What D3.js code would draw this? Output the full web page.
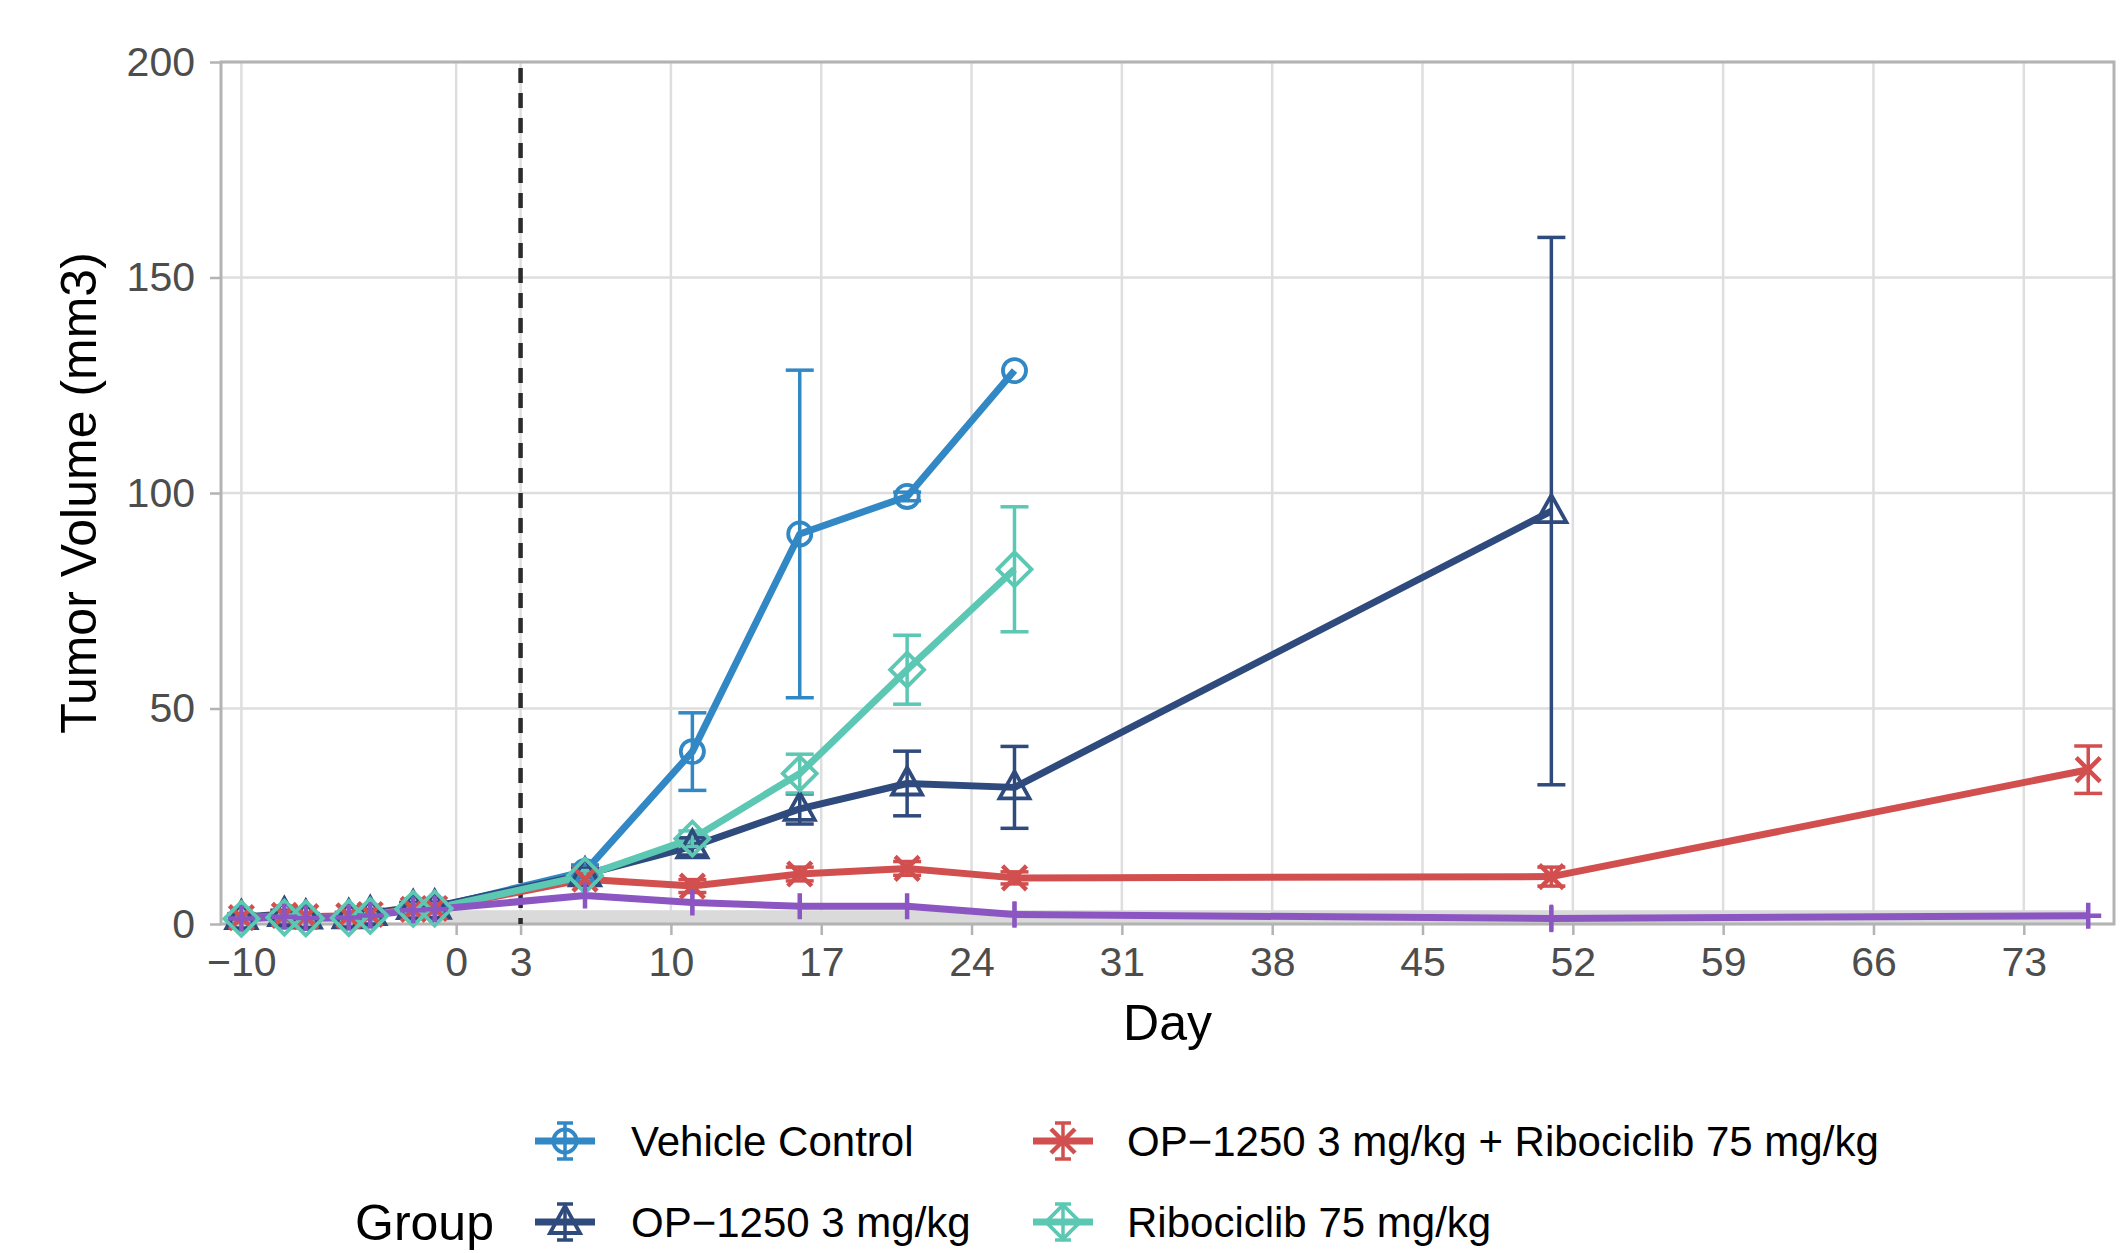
<!DOCTYPE html>
<html lang="en">
<head>
<meta charset="UTF-8">
<title>Tumor Volume by Day</title>
<script src="https://cdn.jsdelivr.net/npm/d3@7"></script>
<style>
    body { margin: 0; background: #fff; }
    svg { display: block; font-family: "Liberation Sans", Arial, Helvetica, sans-serif; }
</style>
</head>
<body>
<script>
// measurement days (x)
var days = [-10, -8, -7, -5, -4, -2, -1, 6, 11, 16, 21, 26, 51, 76];

// group names as in the legend (5th group has no legend entry in the source)
var groupNames = ["Vehicle Control", "OP\u22121250 3 mg/kg", "OP\u22121250 3 mg/kg + Ribociclib 75 mg/kg", "Ribociclib 75 mg/kg", "unlisted"];
var groupColors = ["#3288c4", "#2f4a7c", "#d24f4f", "#5cc8b4", "#8c56c2"];
var groupShapes = ["circle", "triangle", "cross", "diamond", "plus"];

// mean tumour volume (mm3), null = no measurement
var vehicleVals   = [1.4, 1.9, 1.5, 1.6, 2.1, 3.7, 3.8, 12.2, 40.0, 90.5, 99.2, 128.4, null, null];
var op1250Vals    = [1.6, 2.3, 1.7, 1.8, 2.5, 3.9, 4.0, 11.5, 18.0, 26.7, 32.6, 31.7, 95.8, null];
var comboVals     = [1.5, 2.0, 1.7, 1.9, 2.2, 3.4, 3.6, 10.4, 8.8, 11.6, 12.9, 10.7, 11.0, 35.8];
var riboVals      = [1.2, 1.5, 1.3, 1.4, 1.9, 3.5, 3.6, 11.2, 19.8, 34.9, 59.0, 82.3, null, null];
var purpleVals    = [1.3, 1.7, 1.4, 1.5, 2.0, 3.2, 3.4, 6.6, 5.0, 4.1, 4.1, 2.2, 1.3, 1.9];

// standard error
var vehicleErr = [0.7, 0.8, 0.7, 0.7, 0.8, 1.0, 1.0, 1.5, 9.0, 38.0, 1.0, 0, null, null];
var op1250Err  = [0.8, 0.9, 0.7, 0.8, 0.9, 1.1, 1.1, 1.4, 2.0, 3.5, 7.5, 9.5, 63.5, null];
var comboErr   = [0.7, 0.8, 0.7, 0.8, 0.8, 1.0, 1.0, 1.2, 1.5, 1.6, 1.6, 1.4, 2.2, 5.5];
var riboErr    = [0.8, 0.9, 0.8, 0.8, 0.9, 1.0, 1.0, 1.2, 1.8, 4.5, 8.0, 14.5, null, null];
var purpleErr  = [0.6, 0.7, 0.6, 0.6, 0.7, 0.9, 0.9, 2.5, 2.4, 2.2, 2.0, 3.0, 3.2, 2.2];

var xTicks = [-10, 0, 3, 10, 17, 24, 31, 38, 45, 52, 59, 66, 73];
var yTicks = [0, 50, 100, 150, 200];
var treatmentDay = 3;
var ribbonDays = [-1, 76];
var ribbonTop = 3.2;

var allVals = [vehicleVals, op1250Vals, comboVals, riboVals, purpleVals];
var allErr = [vehicleErr, op1250Err, comboErr, riboErr, purpleErr];

var groups = groupNames.map(function(name, g) {
    var pts = [];
    days.forEach(function(d, i) {
        if (allVals[g][i] != null) pts.push({day: d, val: allVals[g][i], se: allErr[g][i]});
    });
    return {name: name, color: groupColors[g], shape: groupShapes[g], points: pts};
});

var W = 2122, H = 1253;
var panel = {left: 221, right: 2114, top: 62, bottom: 924};

var svg = d3.select("body").append("svg")
    .attr("width", W)
    .attr("height", H);

var x = d3.scaleLinear()
    .domain([-10.95, 77.2])
    .range([panel.left, panel.right]);

var y = d3.scaleLinear()
    .domain([0, 200])
    .range([panel.bottom, panel.top]);

// grid
svg.append("g").selectAll("line")
    .data(xTicks).enter().append("line")
    .attr("x1", d => x(d)).attr("x2", d => x(d))
    .attr("y1", panel.top).attr("y2", panel.bottom)
    .attr("stroke", "#dedede").attr("stroke-width", 2.5);

svg.append("g").selectAll("line")
    .data(yTicks).enter().append("line")
    .attr("x1", panel.left).attr("x2", panel.right)
    .attr("y1", d => y(d)).attr("y2", d => y(d))
    .attr("stroke", "#dedede").attr("stroke-width", 2.5);

// grey ribbon near zero
svg.append("rect")
    .attr("x", x(ribbonDays[0]))
    .attr("y", y(ribbonTop))
    .attr("width", x(ribbonDays[1]) - x(ribbonDays[0]))
    .attr("height", y(0) - y(ribbonTop))
    .attr("fill", "#dadada");

// axes (ticks + labels)
var xAxis = d3.axisBottom(x).tickValues(xTicks).tickSize(11).tickPadding(12)
    .tickFormat(d => d < 0 ? "\u2212" + Math.abs(d) : d);
var yAxis = d3.axisLeft(y).tickValues(yTicks).tickSize(11).tickPadding(15);

var gx = svg.append("g")
    .attr("transform", "translate(0," + panel.bottom + ")")
    .call(xAxis);
var gy = svg.append("g")
    .attr("transform", "translate(" + panel.left + ",0)")
    .call(yAxis);

[gx, gy].forEach(function(g) {
    g.select(".domain").remove();
    g.selectAll(".tick line").attr("stroke", "#b3b3b3").attr("stroke-width", 2.5);
    g.selectAll(".tick text")
        .attr("fill", "#4d4d4d")
        .style("font-size", "41px");
});

// panel border
svg.append("rect")
    .attr("x", panel.left).attr("y", panel.top)
    .attr("width", panel.right - panel.left)
    .attr("height", panel.bottom - panel.top)
    .attr("fill", "none")
    .attr("stroke", "#b3b3b3")
    .attr("stroke-width", 3);

// treatment start
svg.append("line")
    .attr("x1", x(treatmentDay)).attr("x2", x(treatmentDay))
    .attr("y1", y(200) + 6).attr("y2", panel.bottom)
    .attr("stroke", "#2b2b2b")
    .attr("stroke-width", 4.5)
    .attr("stroke-dasharray", "15,10");

// lines
var line = d3.line()
    .x(d => x(d.day))
    .y(d => y(d.val));

svg.append("g").selectAll("path")
    .data(groups).enter().append("path")
    .attr("d", d => line(d.points))
    .attr("fill", "none")
    .attr("stroke", d => d.color)
    .attr("stroke-width", 7)
    .attr("stroke-linejoin", "round");

// error bars
var cap = 14;
groups.forEach(function(g) {
    var eg = svg.append("g").attr("stroke", g.color).attr("stroke-width", 3.5).attr("fill", "none");
    g.points.forEach(function(p) {
        if (!p.se) return;
        var cx = x(p.day), y1 = y(p.val + p.se), y0 = y(p.val - p.se);
        eg.append("line").attr("x1", cx).attr("x2", cx).attr("y1", y1).attr("y2", y0);
        if (g.shape !== "plus") {
            eg.append("line").attr("x1", cx - cap).attr("x2", cx + cap).attr("y1", y1).attr("y2", y1);
            eg.append("line").attr("x1", cx - cap).attr("x2", cx + cap).attr("y1", y0).attr("y2", y0);
        }
    });
});

// point shapes
function shapePath(shape) {
    if (shape === "circle") return d3.symbol(d3.symbolCircle, 420)();
    if (shape === "triangle") return "M0,-16L15,11L-15,11Z";
    if (shape === "diamond") return "M0,-17L17,0L0,17L-17,0Z";
    if (shape === "cross") return "M-12,-12L12,12M-12,12L12,-12";
    return "M-13,0L13,0M0,-13L0,13";
}

function drawPoints(sel, g) {
    sel.append("path")
        .attr("d", shapePath(g.shape))
        .attr("fill", "none")
        .attr("stroke", g.color)
        .attr("stroke-width", g.shape === "cross" || g.shape === "plus" ? 4.5 : 3.8);
}

groups.forEach(function(g) {
    var pg = svg.append("g");
    g.points.forEach(function(p) {
        var s = pg.append("g").attr("transform", "translate(" + x(p.day) + "," + y(p.val) + ")");
        drawPoints(s, g);
    });
});

// axis titles
svg.append("text")
    .attr("x", (panel.left + panel.right) / 2)
    .attr("y", 1040)
    .attr("text-anchor", "middle")
    .style("font-size", "50px")
    .attr("fill", "#000")
    .text("Day");

svg.append("text")
    .attr("transform", "translate(78," + ((panel.top + panel.bottom) / 2) + ") rotate(-90)")
    .attr("text-anchor", "middle")
    .attr("dy", "0.35em")
    .style("font-size", "50px")
    .attr("fill", "#000")
    .text("Tumor Volume (mm3)");

// legend
var legendPos = [
    {kx: 565, tx: 631, ry: 1141},
    {kx: 565, tx: 631, ry: 1222},
    {kx: 1063, tx: 1127, ry: 1141},
    {kx: 1063, tx: 1127, ry: 1222}
];

var legend = svg.append("g");
legend.append("text")
    .attr("x", 355).attr("y", 1222)
    .attr("dy", "0.35em")
    .style("font-size", "50px")
    .text("Group");

groups.slice(0, 4).forEach(function(g, i) {
    var pos = legendPos[i];
    var k = legend.append("g").attr("transform", "translate(" + pos.kx + "," + pos.ry + ")");
    k.append("line").attr("x1", -30).attr("x2", 30).attr("y1", 0).attr("y2", 0)
        .attr("stroke", g.color).attr("stroke-width", 7);
    k.append("line").attr("x1", 0).attr("x2", 0).attr("y1", -18).attr("y2", 18)
        .attr("stroke", g.color).attr("stroke-width", 3.5);
    k.append("line").attr("x1", -8).attr("x2", 8).attr("y1", -18).attr("y2", -18)
        .attr("stroke", g.color).attr("stroke-width", 3.5);
    k.append("line").attr("x1", -8).attr("x2", 8).attr("y1", 18).attr("y2", 18)
        .attr("stroke", g.color).attr("stroke-width", 3.5);
    drawPoints(k, g);
    legend.append("text")
        .attr("x", pos.tx).attr("y", pos.ry)
        .attr("dy", "0.35em")
        .style("font-size", "42px")
        .text(g.name);
});
</script>
</body>
</html>
